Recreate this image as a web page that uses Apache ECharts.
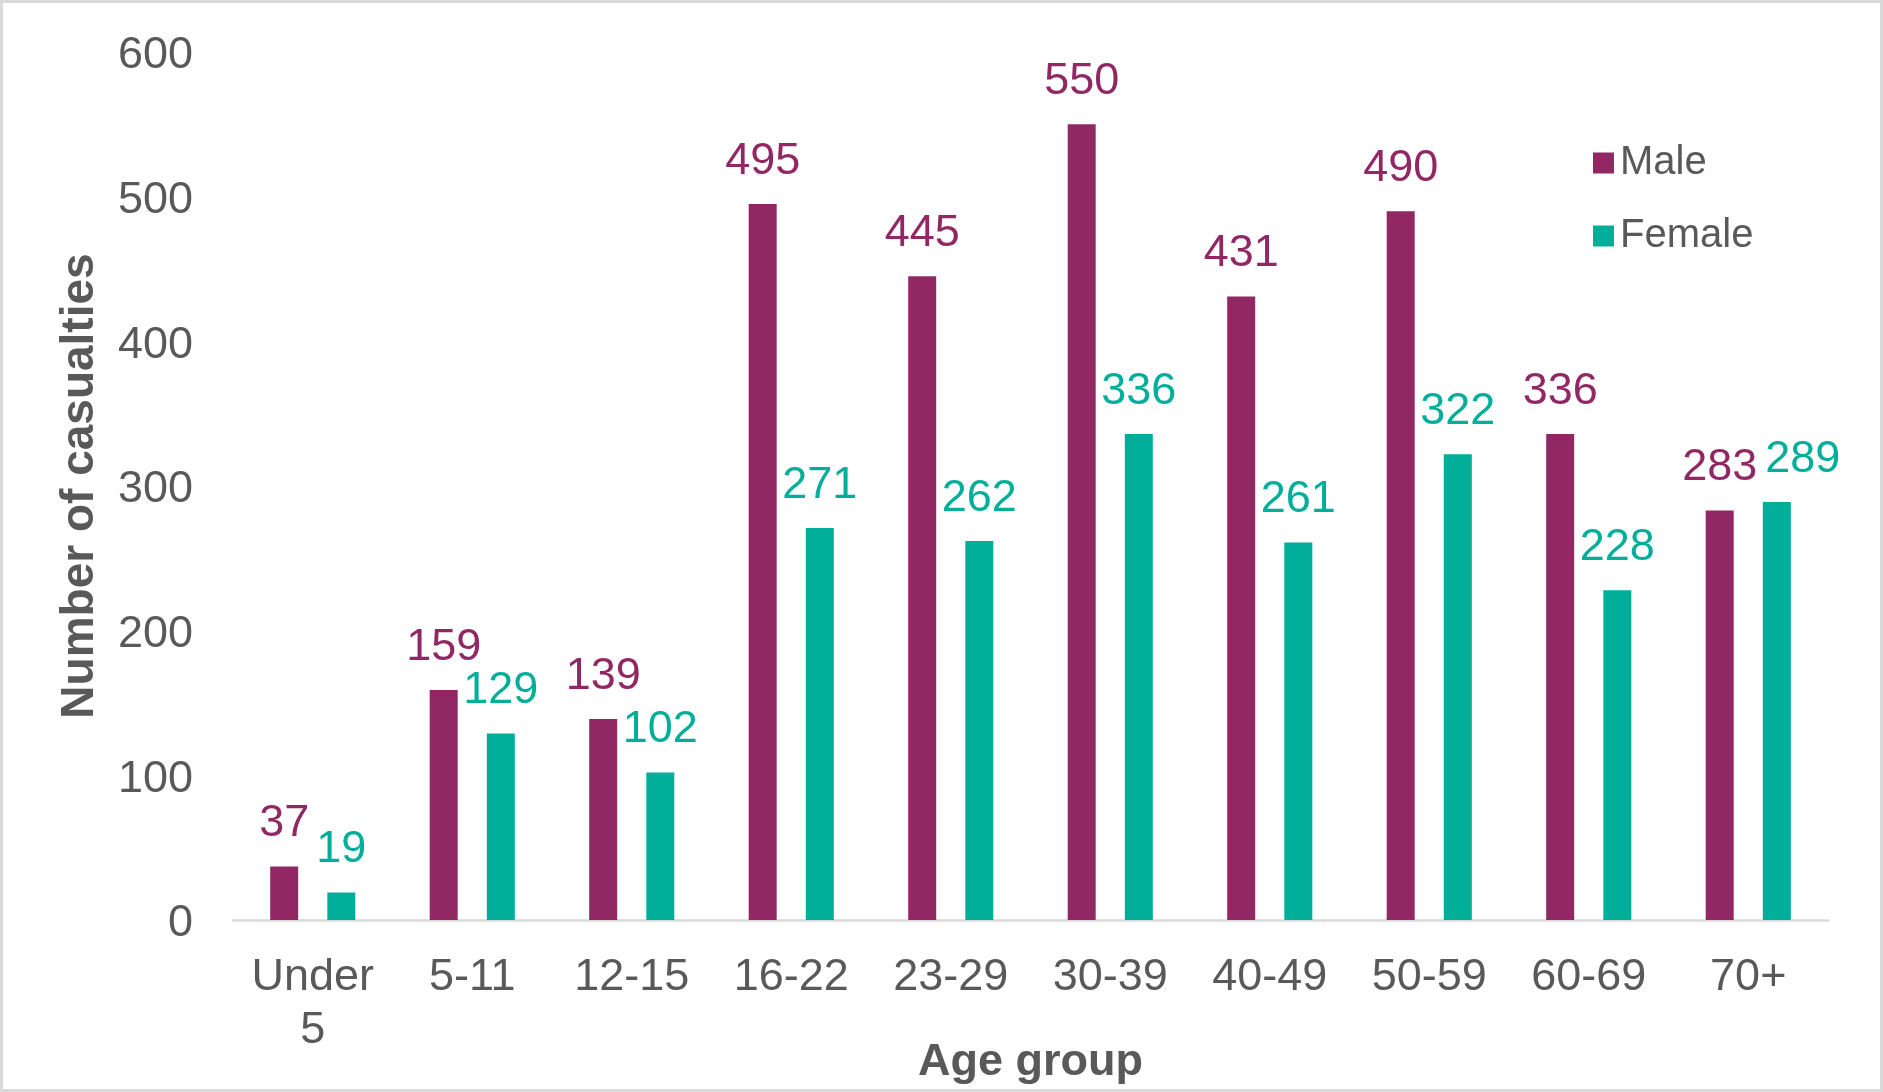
<!DOCTYPE html>
<html>
<head>
<meta charset="utf-8">
<script src="https://cdn.jsdelivr.net/npm/echarts@6/dist/echarts.min.js"></script>
<style>
html,body{margin:0;padding:0;background:#fff;}
#chart{width:1883px;height:1092px;}
</style>
</head>
<body>
<div id="chart"></div>
<script>
const categories = ['Under\n5','5-11','12-15','16-22','23-29','30-39','40-49','50-59','60-69','70+'];
const maleValues = [37,159,139,495,445,550,431,490,336,283];
const femaleValues = [19,129,102,271,262,336,261,322,228,289];
const yTicks = {min:0, max:600, interval:100};

const FONT = '"Liberation Sans", Arial, sans-serif';
const GREY = '#595959';
const MALE = '#912863';
const FEMALE = '#00AE9A';

// last female label nudged right to avoid overlapping its neighbour (as in the original)
const femaleData = femaleValues.map((v, i) =>
  i === femaleValues.length - 1 ? {value: v, label: {offset: [26, 0]}} : v);

const chart = echarts.init(document.getElementById('chart'), null, {renderer:'canvas'});
chart.setOption({
  animation:false,
  backgroundColor:'#ffffff',
  textStyle:{fontFamily:FONT},
  graphic:[{type:'rect',shape:{x:1.5,y:1.5,width:1880,height:1089},style:{fill:'none',stroke:'#d9d9d9',lineWidth:3},silent:true}],
  grid:{left:233,right:55,top:52,bottom:172,containLabel:false,outerBoundsMode:'none'},
  legend:{
    orient:'vertical',left:1588,top:138,
    itemWidth:21,itemHeight:21,itemGap:33,icon:'rect',
    textStyle:{fontSize:40,color:GREY,fontFamily:FONT,padding:[0,0,0,1]},
    data:['Male','Female']
  },
  xAxis:{
    type:'category',data:categories,
    axisLine:{lineStyle:{color:'#d9d9d9',width:2.5}},
    axisTick:{show:false},
    axisLabel:{fontSize:45,color:GREY,fontFamily:FONT,margin:31,lineHeight:53,interval:0},
    name:'Age group',nameLocation:'middle',nameGap:120,nameMoveOverlap:false,
    nameTextStyle:{fontSize:45,fontWeight:'bold',color:GREY,fontFamily:FONT}
  },
  yAxis:{
    type:'value',min:yTicks.min,max:yTicks.max,interval:yTicks.interval,
    axisLine:{show:false},axisTick:{show:false},splitLine:{show:false},
    axisLabel:{fontSize:45,color:GREY,fontFamily:FONT,margin:40,
      formatter:'{a|{value}}',
      rich:{a:{fontSize:45,color:GREY,fontFamily:FONT,padding:[8,0,0,0]}}},
    name:'Number of casualties',nameLocation:'middle',nameGap:130,nameRotate:90,nameMoveOverlap:false,
    nameTextStyle:{fontSize:46,fontWeight:'bold',color:GREY,fontFamily:FONT}
  },
  series:[
    {name:'Male',type:'bar',data:maleValues,barWidth:28,barGap:'104%',
     itemStyle:{color:MALE},
     label:{show:true,position:'top',distance:20,fontSize:45,color:MALE,fontFamily:FONT}},
    {name:'Female',type:'bar',data:femaleData,barWidth:28,
     itemStyle:{color:FEMALE},
     label:{show:true,position:'top',distance:20,fontSize:45,color:FEMALE,fontFamily:FONT}}
  ]
});
</script>
</body>
</html>
